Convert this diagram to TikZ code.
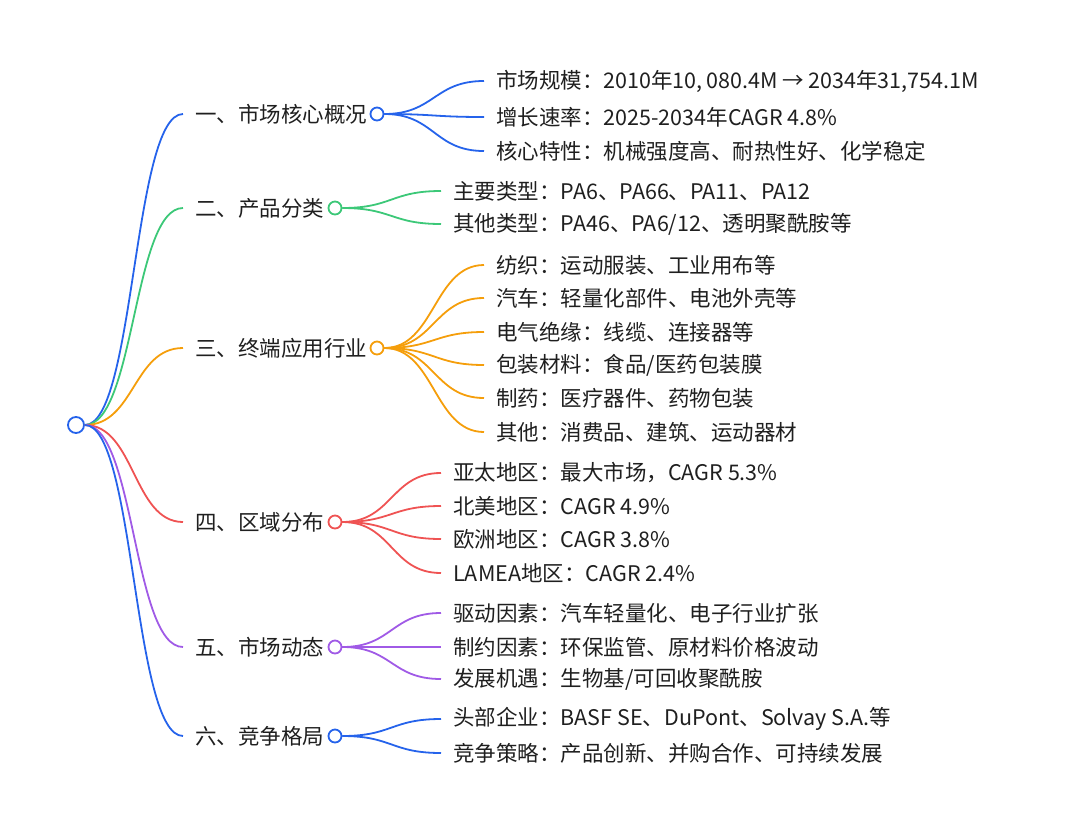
\documentclass[tikz,border=0pt]{standalone}
\usepackage{fontspec}
\setmainfont{Noto Sans CJK SC}
\usepackage{tikz,xcolor}
\usetikzlibrary{positioning}
\definecolor{ink}{HTML}{1F1F1F}
\definecolor{mblue}{HTML}{2563EB}
\definecolor{mgreen}{HTML}{3CC878}
\definecolor{morange}{HTML}{F59E0B}
\definecolor{mred}{HTML}{EF5353}
\definecolor{mpurple}{HTML}{A05AE6}
\tikzset{
    branch/.style={draw=#1, line width=1.8pt}, % 分支曲线
    hub/.style={circle, draw=#1, line width=1.8pt, fill=white, minimum size=13pt, inner sep=0pt},
    roothub/.style={circle, draw=mblue, line width=1.8pt, fill=white, minimum size=16pt, inner sep=0pt},
    topic/.style={anchor=west, inner xsep=12pt, inner ysep=0pt, text=ink, font=\fontsize{21.5pt}{25pt}\selectfont},
    leaf/.style={anchor=west, inner xsep=12pt, inner ysep=0pt, text=ink, font=\fontsize{21.5pt}{25pt}\selectfont}
}
\begin{document}
\begin{tikzpicture}[x=1pt, y=-1pt]
    \useasboundingbox (0,0) rectangle (1080,831);

    \node (root) [roothub] at (76,425) {};

    % 一级主题
    \node (t1) [topic] at (183,114) {一、市场核心概况};
    \node (t2) [topic] at (183,208) {二、产品分类};
    \node (t3) [topic] at (183,348) {三、终端应用行业};
    \node (t4) [topic] at (183,522) {四、区域分布};
    \node (t5) [topic] at (183,647) {五、市场动态};
    \node (t6) [topic] at (183,736) {六、竞争格局};

    \node (h1) [hub=mblue] at (377,114) {};
    \node (h2) [hub=mgreen] at (335,208) {};
    \node (h3) [hub=morange] at (377,348) {};
    \node (h4) [hub=mred] at (335,522) {};
    \node (h5) [hub=mpurple] at (335,647) {};
    \node (h6) [hub=mblue] at (335,736) {};

    % 二级条目
    \node (l11) [leaf] at (484,81) {市场规模：2010年10,\,080.4M → 2034年31,754.1M};
    \node (l12) [leaf] at (484,117) {增长速率：2025-2034年CAGR 4.8\%};
    \node (l13) [leaf] at (484,151) {核心特性：机械强度高、耐热性好、化学稳定};

    \node (l21) [leaf] at (441,191) {主要类型：PA6、PA66、PA11、PA12};
    \node (l22) [leaf] at (441,224) {其他类型：PA46、PA6/12、透明聚酰胺等};

    \node (l31) [leaf] at (484,265) {纺织：运动服装、工业用布等};
    \node (l32) [leaf] at (484,298) {汽车：轻量化部件、电池外壳等};
    \node (l33) [leaf] at (484,332) {电气绝缘：线缆、连接器等};
    \node (l34) [leaf] at (484,365) {包装材料：食品/医药包装膜};
    \node (l35) [leaf] at (484,398) {制药：医疗器件、药物包装};
    \node (l36) [leaf] at (484,432) {其他：消费品、建筑、运动器材};

    \node (l41) [leaf] at (441,473) {亚太地区：最大市场，CAGR 5.3\%};
    \node (l42) [leaf] at (441,506) {北美地区：CAGR 4.9\%};
    \node (l43) [leaf] at (441,539) {欧洲地区：CAGR 3.8\%};
    \node (l44) [leaf] at (441,573) {LAMEA地区：CAGR 2.4\%};

    \node (l51) [leaf] at (441,613) {驱动因素：汽车轻量化、电子行业扩张};
    \node (l52) [leaf] at (441,647) {制约因素：环保监管、原材料价格波动};
    \node (l53) [leaf] at (441,679) {发展机遇：生物基/可回收聚酰胺};

    \node (l61) [leaf] at (441,719) {头部企业：BASF SE、DuPont、Solvay S.A.等};
    \node (l62) [leaf] at (441,753) {竞争策略：产品创新、并购合作、可持续发展};

    % 根到主题
    \draw[branch=mblue] (root.east) .. controls +(50,0) and +(-50,0) .. (t1.west);
    \draw[branch=mgreen] (root.east) .. controls +(50,0) and +(-50,0) .. (t2.west);
    \draw[branch=morange] (root.east) .. controls +(50,0) and +(-50,0) .. (t3.west);
    \draw[branch=mred] (root.east) .. controls +(50,0) and +(-50,0) .. (t4.west);
    \draw[branch=mpurple] (root.east) .. controls +(50,0) and +(-50,0) .. (t5.west);
    \draw[branch=mblue] (root.east) .. controls +(50,0) and +(-50,0) .. (t6.west);

    % 主题到条目
    \draw[branch=mblue] (h1.east) .. controls +(50,0) and +(-50,0) .. (l11.west);
    \draw[branch=mblue] (h1.east) .. controls +(50,0) and +(-50,0) .. (l12.west);
    \draw[branch=mblue] (h1.east) .. controls +(50,0) and +(-50,0) .. (l13.west);

    \draw[branch=mgreen] (h2.east) .. controls +(50,0) and +(-50,0) .. (l21.west);
    \draw[branch=mgreen] (h2.east) .. controls +(50,0) and +(-50,0) .. (l22.west);

    \draw[branch=morange] (h3.east) .. controls +(50,0) and +(-50,0) .. (l31.west);
    \draw[branch=morange] (h3.east) .. controls +(50,0) and +(-50,0) .. (l32.west);
    \draw[branch=morange] (h3.east) .. controls +(50,0) and +(-50,0) .. (l33.west);
    \draw[branch=morange] (h3.east) .. controls +(50,0) and +(-50,0) .. (l34.west);
    \draw[branch=morange] (h3.east) .. controls +(50,0) and +(-50,0) .. (l35.west);
    \draw[branch=morange] (h3.east) .. controls +(50,0) and +(-50,0) .. (l36.west);

    \draw[branch=mred] (h4.east) .. controls +(50,0) and +(-50,0) .. (l41.west);
    \draw[branch=mred] (h4.east) .. controls +(50,0) and +(-50,0) .. (l42.west);
    \draw[branch=mred] (h4.east) .. controls +(50,0) and +(-50,0) .. (l43.west);
    \draw[branch=mred] (h4.east) .. controls +(50,0) and +(-50,0) .. (l44.west);

    \draw[branch=mpurple] (h5.east) .. controls +(50,0) and +(-50,0) .. (l51.west);
    \draw[branch=mpurple] (h5.east) .. controls +(50,0) and +(-50,0) .. (l52.west);
    \draw[branch=mpurple] (h5.east) .. controls +(50,0) and +(-50,0) .. (l53.west);

    \draw[branch=mblue] (h6.east) .. controls +(50,0) and +(-50,0) .. (l61.west);
    \draw[branch=mblue] (h6.east) .. controls +(50,0) and +(-50,0) .. (l62.west);
\end{tikzpicture}
\end{document}
